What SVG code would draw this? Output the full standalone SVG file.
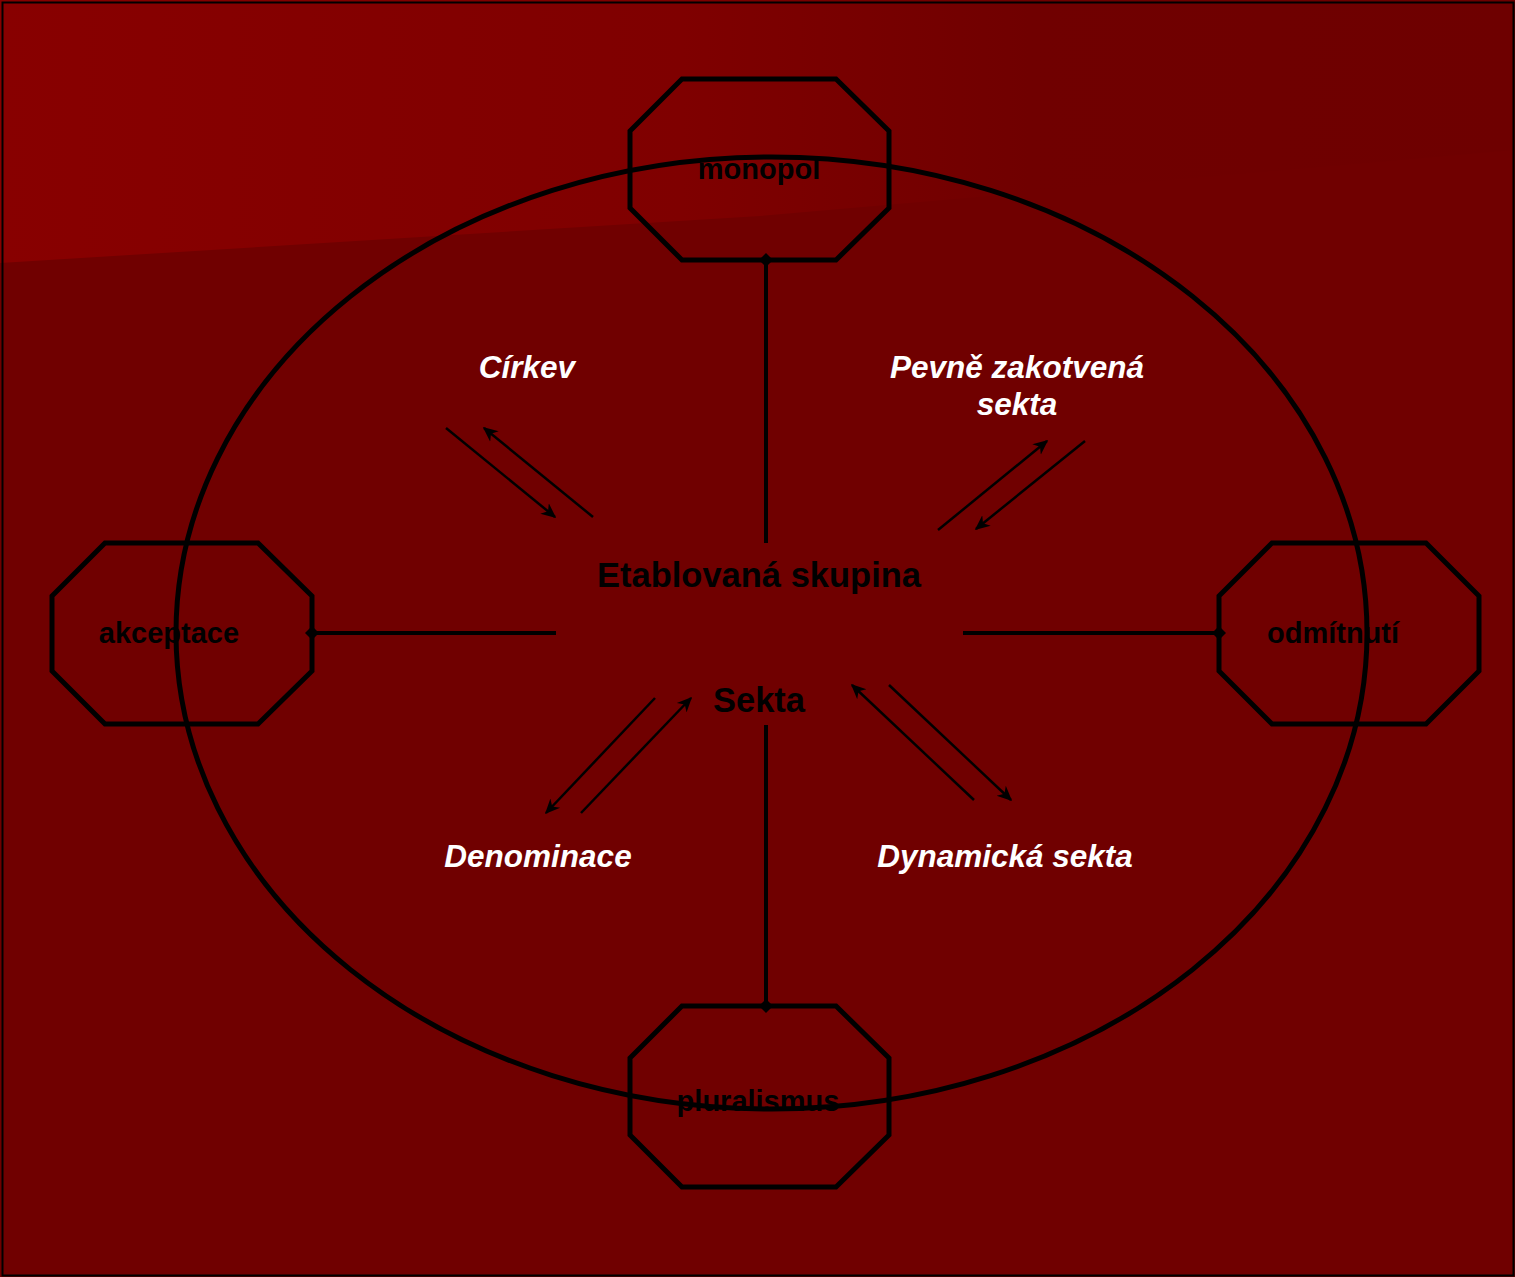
<svg xmlns="http://www.w3.org/2000/svg" width="1515" height="1277" viewBox="0 0 1515 1277">
<defs>
<linearGradient id="wedge" x1="0" y1="0" x2="1" y2="0">
<stop offset="0" stop-color="#880000"/>
<stop offset="0.45" stop-color="#7f0000"/>
<stop offset="0.68" stop-color="#700000"/>
<stop offset="1" stop-color="#6e0000"/>
</linearGradient>
<marker id="ah" viewBox="0 0 10 10" refX="9" refY="5" markerWidth="15" markerHeight="15" markerUnits="userSpaceOnUse" orient="auto">
<path d="M0,0.5 L10,5 L0,9.5 L3,5 z" fill="#000"/>
</marker>
<marker id="dm" viewBox="0 0 10 10" refX="5" refY="5" markerWidth="14" markerHeight="14" markerUnits="userSpaceOnUse" orient="auto">
<path d="M0,5 L5,0 L10,5 L5,10 z" fill="#000"/>
</marker>
</defs>
<style>
.oct{fill:none;stroke:#000;stroke-width:5}
.main{fill:none;stroke:#000;stroke-width:4}
.arr{fill:none;stroke:#000;stroke-width:2.5;marker-end:url(#ah)}
.lbl{font-family:"Liberation Sans",Arial,sans-serif;font-weight:bold;fill:#000;text-anchor:middle}
.it{font-family:"Liberation Sans",Arial,sans-serif;font-weight:bold;font-style:italic;fill:#fff;text-anchor:middle;font-size:31.5px}
</style>
<rect x="0" y="0" width="1515" height="1277" fill="#700000"/>
<path d="M0,0 L1515,0 L1515,150 L760,216 L0,263 Z" fill="url(#wedge)"/>
<rect x="2.5" y="2.5" width="1511" height="1273" fill="none" stroke="#000" stroke-width="2"/>
<ellipse cx="771.5" cy="633" rx="595.5" ry="476" fill="none" stroke="#000" stroke-width="5"/>
<g id="connectors">
<line x1="766" y1="543" x2="766" y2="260" class="main" marker-end="url(#dm)"/>
<line x1="766" y1="725" x2="766" y2="1006" class="main" marker-end="url(#dm)"/>
<line x1="556" y1="633" x2="312" y2="633" class="main" marker-end="url(#dm)"/>
<line x1="963" y1="633" x2="1219" y2="633" class="main" marker-end="url(#dm)"/>
<line x1="446" y1="428" x2="555" y2="517" class="arr"/>
<line x1="593" y1="517" x2="484" y2="428" class="arr"/>
<line x1="938" y1="530" x2="1047" y2="441" class="arr"/>
<line x1="1085" y1="441" x2="976" y2="529" class="arr"/>
<line x1="655" y1="698" x2="546" y2="813" class="arr"/>
<line x1="581" y1="813" x2="691" y2="698" class="arr"/>
<line x1="974" y1="800" x2="852" y2="685" class="arr"/>
<line x1="889" y1="685" x2="1011" y2="800" class="arr"/>
</g>
<g id="monopol">
<polygon points="682,79 836,79 889,131 889,208 836,260 682,260 630,208 630,131" class="oct"/>
<text x="759" y="179" class="lbl" font-size="29">monopol</text>
</g>
<g id="akceptace">
<polygon points="105,543 258,543 312,596 312,671 258,724 105,724 52,671 52,596" class="oct"/>
<text x="169" y="643" class="lbl" font-size="29">akceptace</text>
</g>
<g id="odmitnuti">
<polygon points="1272,543 1426,543 1479,596 1479,671 1426,724 1272,724 1219,671 1219,596" class="oct"/>
<text x="1333" y="643" class="lbl" font-size="29">odmítnutí</text>
</g>
<g id="pluralismus">
<polygon points="682,1006 836,1006 889,1058 889,1135 836,1187 682,1187 630,1135 630,1058" class="oct"/>
<text x="758" y="1111" class="lbl" font-size="29">pluralismus</text>
</g>
<g id="etablovana">
<text x="759" y="587" class="lbl" font-size="34.5">Etablovaná skupina</text>
</g>
<g id="sekta">
<text x="759" y="712" class="lbl" font-size="34.5">Sekta</text>
</g>
<g id="cirkev"><text x="527" y="378" class="it">Církev</text></g>
<g id="pevne"><text x="1017" y="378" class="it">Pevně zakotvená</text><text x="1017" y="415" class="it">sekta</text></g>
<g id="denominace"><text x="538" y="867" class="it">Denominace</text></g>
<g id="dynamicka"><text x="1005" y="867" class="it">Dynamická sekta</text></g>
</svg>
